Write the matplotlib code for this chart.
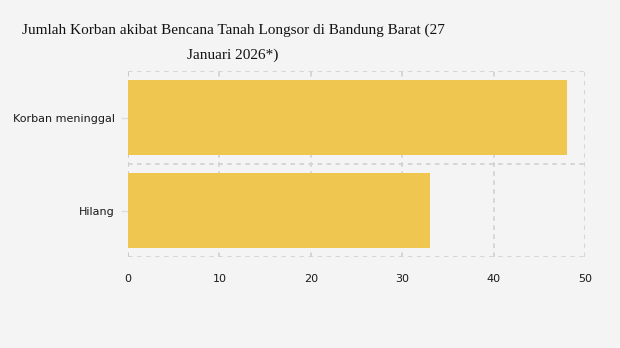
import matplotlib.pyplot as plt

categories = ["Korban meninggal", "Hilang"]
values = [48, 33]
x_ticks = [0, 10, 20, 30, 40, 50]

bg = "#f4f4f4"
bar_color = "#efc650"
grid_color = "#d3d3d3"

fig = plt.figure(figsize=(6.2, 3.48), dpi=100, facecolor=bg)
ax = fig.add_axes([128 / 620, (348 - 257.3) / 348, 457 / 620, 186.3 / 348])
ax.set_facecolor(bg)

ypos = list(range(len(categories)))
ax.barh(ypos, values, height=0.8, color=bar_color, zorder=2)

ax.set_xlim(0, 50)
ax.set_ylim(len(categories) - 0.5, -0.5)
ax.set_yticks(ypos)
ax.set_yticklabels(categories)
ax.set_xticks(x_ticks)

# dashed grid: vertical at ticks, horizontal at band edges
for t in x_ticks:
    ax.axvline(t, color="#c6c6c6" if t == 0 else grid_color, ls=(0, (2.5, 2.5)), lw=1.3, zorder=1)
for b in [-0.5, 0.5, 1.5]:
    ax.axhline(b, color=grid_color, ls=(0, (2.5, 2.5)), lw=1.3, zorder=1)

for s in ax.spines.values():
    s.set_visible(False)

ax.tick_params(axis="y", length=5, width=1, color="#dddddd", pad=4.5, labelsize=8, labelcolor="#1a1a1a")
ax.tick_params(axis="x", length=0, pad=12, labelsize=8, labelcolor="#1a1a1a")

title_kw = dict(ha="center", va="center", fontsize=11, family="Liberation Serif", color="#111111")
fig.text(233 / 620, 1 - 30 / 348, "Jumlah Korban akibat Bencana Tanah Longsor di Bandung Barat (27", **title_kw)
fig.text(233 / 620, 1 - 55 / 348, "Januari 2026*)", **title_kw)

fig.savefig("out.png", dpi=100, facecolor=bg)
